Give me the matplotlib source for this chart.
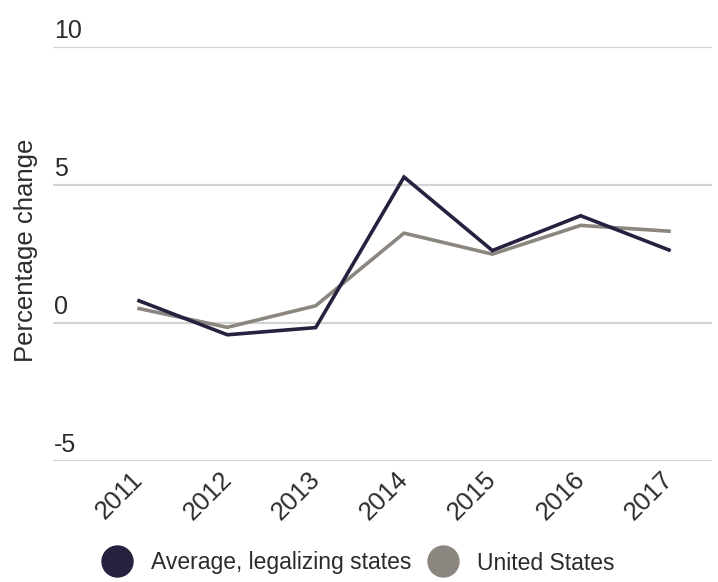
import matplotlib
matplotlib.use("Agg")
import matplotlib.pyplot as plt
from matplotlib.lines import Line2D
from matplotlib.transforms import ScaledTranslation, blended_transform_factory

# Data
years = ["2011", "2012", "2013", "2014", "2015", "2016", "2017"]
legalizing_avg = [0.80, -0.43, -0.17, 5.28, 2.62, 3.88, 2.64]
united_states = [0.52, -0.16, 0.62, 3.25, 2.49, 3.53, 3.32]
y_ticks = [-5, 0, 5, 10]
series_names = ["Average, legalizing states", "United States"]

DARK = "#25213f"
GRAY = "#8c8680"
GRID = "#d3d3d3"
TEXT = "#2b2b2b"

plt.rcParams["font.family"] = ["Liberation Sans", "DejaVu Sans"]

fig = plt.figure(figsize=(7.18, 5.82), dpi=100)
W, H = 718, 582
ax = fig.add_axes([53 / W, (H - 461) / H, (712 - 53) / W, (461 - 46.7) / H])

x = list(range(len(years)))
ax.plot(x, legalizing_avg, color=DARK, lw=2.6, solid_joinstyle="miter", zorder=3)
ax.plot(x, united_states, color=GRAY, lw=2.6, solid_joinstyle="miter", zorder=2)

ax.set_xlim(-0.974, 6.487)
ax.set_ylim(-5, 10)

# horizontal gridlines with labels sitting above each line
ax.set_yticks(y_ticks)
ax.yaxis.grid(True, color=GRID, lw=1.6)
ax.tick_params(axis="y", left=False, labelleft=False)
trans = blended_transform_factory(ax.transAxes, ax.transData) + ScaledTranslation(1 / 100, 9 / 100, fig.dpi_scale_trans)
for v in y_ticks:
    ax.text(0, v, f"{v}", transform=trans, ha="left", va="baseline",
            fontsize=18, color=TEXT)

ax.set_xticks(x)
ax.set_xticklabels(years, rotation=45, ha="right", va="top", fontsize=18.5, color=TEXT)
ax.tick_params(axis="x", bottom=False, pad=1)
shift = ScaledTranslation(9 / 100, 0, fig.dpi_scale_trans)
for lbl in ax.get_xticklabels():
    lbl.set_transform(lbl.get_transform() + shift)

for s in ax.spines.values():
    s.set_visible(False)

ax.set_ylabel("Percentage change", fontsize=18.5, color=TEXT)
ax.yaxis.set_label_coords(-0.0225, (461 - 250) / (461 - 46.7))

handles = [
    Line2D([], [], ls="none", marker="o", markersize=22.3, color=DARK),
    Line2D([], [], ls="none", marker="o", markersize=22.3, color=GRAY),
]
fig.legend(handles, series_names, loc="center", bbox_to_anchor=(0.4986, (H - 563) / H),
           ncol=2, frameon=False, handlelength=1.35, handletextpad=0.81,
           columnspacing=0.68, prop={"size": 16.5}, labelcolor=TEXT)

fig.savefig("out.png", dpi=100)
